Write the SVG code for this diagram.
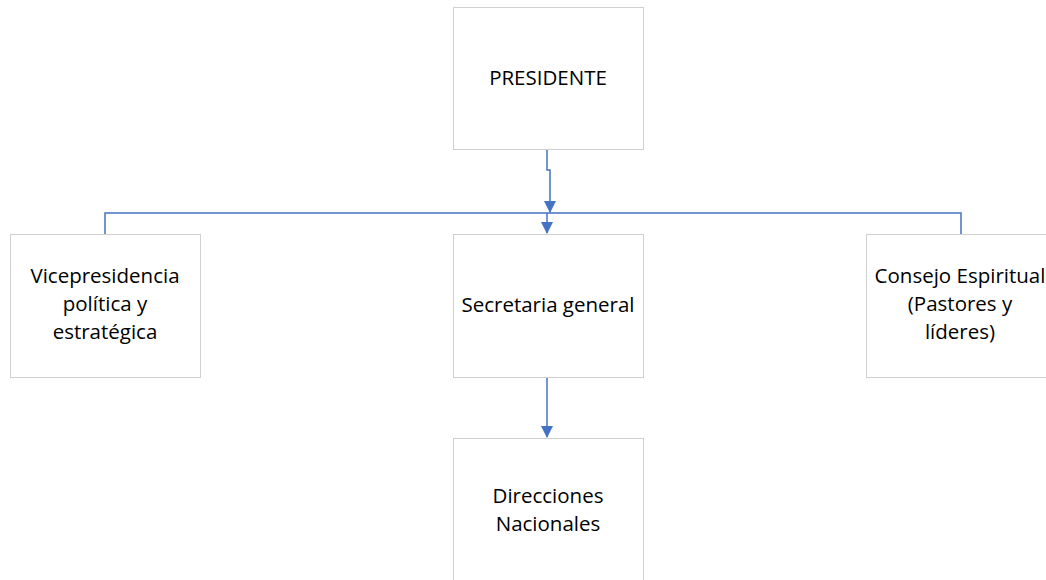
<svg xmlns="http://www.w3.org/2000/svg" width="1046" height="580" viewBox="0 0 1046 580">
<style>
.box{fill:#fff;stroke:#d0d0d0;stroke-width:1}
.t{font-family:"Open Sans","Noto Sans",sans-serif;font-size:20.5px;fill:#000;text-anchor:middle}
.c{fill:none;stroke:#4472c4;stroke-width:1.5}
</style>
<defs>
<marker id="ah" markerWidth="12" markerHeight="12" refX="11" refY="6" orient="auto" markerUnits="userSpaceOnUse" viewBox="0 0 12 12">
<path d="M0,0 L12,6 L0,12 z" fill="#4472c4"/>
</marker>
</defs>
<rect width="1046" height="580" fill="#fff"/>
<g id="connectors">
<path class="c" d="M547,149 V170 H550 V212" marker-end="url(#ah)"/>
<path class="c" d="M105,234 V213 H961 V234"/>
<path class="c" d="M547,213 V233" marker-end="url(#ah)"/>
<path class="c" d="M547,377 V437" marker-end="url(#ah)"/>
</g>
<g id="presidente">
<rect class="box" x="453.5" y="7.5" width="190" height="142"/>
<text class="t" x="548" y="85">PRESIDENTE</text>
</g>
<g id="vicepresidencia">
<rect class="box" x="10.5" y="234.5" width="190" height="143"/>
<text class="t" x="105" y="283">Vicepresidencia</text>
<text class="t" x="105" y="311">política y</text>
<text class="t" x="105" y="339">estratégica</text>
</g>
<g id="secretaria">
<rect class="box" x="453.5" y="234.5" width="190" height="143"/>
<text class="t" x="548" y="312">Secretaria general</text>
</g>
<g id="consejo">
<rect class="box" x="866.5" y="234.5" width="190" height="143"/>
<text class="t" x="960" y="283">Consejo Espiritual</text>
<text class="t" x="960" y="311">(Pastores y</text>
<text class="t" x="960" y="339">líderes)</text>
</g>
<g id="direcciones">
<rect class="box" x="453.5" y="438.5" width="190" height="150"/>
<text class="t" x="548" y="503">Direcciones</text>
<text class="t" x="548" y="531">Nacionales</text>
</g>
</svg>
